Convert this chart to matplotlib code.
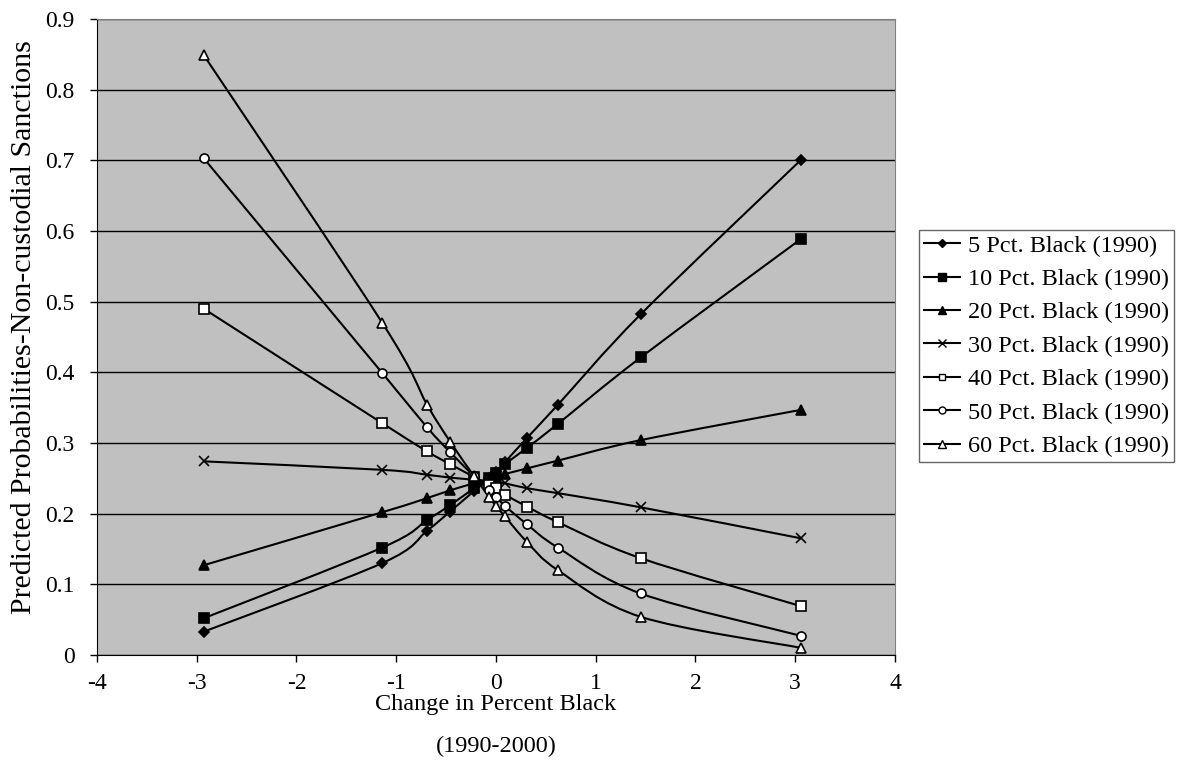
import numpy as np
import matplotlib.pyplot as plt
from matplotlib.path import Path
from matplotlib.patches import PathPatch

plt.rcParams['font.family'] = ['Liberation Serif', 'DejaVu Serif']

# change in percent black (1990-2000)
x = [-2.93, -1.14, -0.69, -0.46, -0.22, -0.07, 0.0, 0.09, 0.31, 0.62, 1.45, 3.06]

pb5 = [0.033, 0.130, 0.176, 0.203, 0.232, 0.250, 0.259, 0.273, 0.307, 0.354, 0.482, 0.701]
pb10 = [0.052, 0.152, 0.191, 0.212, 0.236, 0.251, 0.258, 0.270, 0.293, 0.327, 0.421, 0.589]
pb20 = [0.127, 0.202, 0.222, 0.233, 0.243, 0.249, 0.252, 0.256, 0.264, 0.275, 0.304, 0.347]
pb30 = [0.274, 0.262, 0.255, 0.251, 0.248, 0.246, 0.245, 0.243, 0.236, 0.229, 0.209, 0.165]
pb40 = [0.490, 0.328, 0.288, 0.270, 0.252, 0.241, 0.236, 0.227, 0.210, 0.188, 0.137, 0.069]
pb50 = [0.703, 0.399, 0.322, 0.287, 0.253, 0.233, 0.224, 0.211, 0.185, 0.152, 0.087, 0.027]
pb60 = [0.849, 0.470, 0.354, 0.302, 0.253, 0.224, 0.211, 0.196, 0.160, 0.120, 0.054, 0.010]

labels = ['5 Pct. Black (1990)', '10 Pct. Black (1990)', '20 Pct. Black (1990)',
          '30 Pct. Black (1990)', '40 Pct. Black (1990)', '50 Pct. Black (1990)',
          '60 Pct. Black (1990)']
series = [pb5, pb10, pb20, pb30, pb40, pb50, pb60]
# marker, size, face colour
styles = [('D', 5.5, 'black'), ('s', 7, 'black'), ('^', 7.5, 'black'), ('x', 7, 'black'),
          ('s', 6.5, 'white'), ('o', 6.5, 'white'), ('^', 7.5, 'white')]


def smooth_path(xs, ys):
    # excel-like smoothed line: cardinal spline as cubic bezier segments
    pts = np.column_stack([xs, ys])
    verts = [pts[0]]
    codes = [Path.MOVETO]
    n = len(pts)
    for i in range(n - 1):
        p0 = pts[i - 1] if i > 0 else pts[i]
        p1 = pts[i]
        p2 = pts[i + 1]
        p3 = pts[i + 2] if i + 2 < n else pts[i + 1]
        c1 = p1 + (p2 - p0) / 6.0
        c2 = p2 - (p3 - p1) / 6.0
        verts += [c1, c2, p2]
        codes += [Path.CURVE4] * 3
    return Path(verts, codes)


fig = plt.figure(figsize=(11.87, 7.8), dpi=100)
ax = fig.add_axes([0.0817, 0.1603, 0.6723, 0.8153])
ax.set_facecolor('#C0C0C0')

for ys, lab, (m, ms, fc) in zip(series, labels, styles):
    ax.add_patch(PathPatch(smooth_path(x, ys), facecolor='none', edgecolor='black',
                           lw=1.5, zorder=3))
    ax.plot(x, ys, linestyle='none', marker=m, markersize=ms, markerfacecolor=fc,
            markeredgecolor='black', markeredgewidth=1.2, zorder=4)
    # legend handle
    ax.plot([], [], color='black', lw=1.5, marker=m, markersize=ms - 1.5,
            markerfacecolor=fc, markeredgecolor='black', label=lab)

ax.set_xlim(-4, 4)
ax.set_ylim(0, 0.9)
ax.set_xticks(np.arange(-4, 5, 1))
ax.set_xticklabels([str(v) for v in range(-4, 5)])
ax.set_yticks(np.arange(0, 0.91, 0.1))
ax.set_yticklabels(['0'] + ['%.1f' % v for v in np.arange(0.1, 0.91, 0.1)])
ax.yaxis.grid(True, color='black', lw=1)
ax.set_axisbelow(True)
ax.tick_params(direction='out', length=5, width=1, labelsize=17, colors='black')
ax.tick_params(axis='y', pad=11)
ax.tick_params(axis='x', pad=8)

for s in ['top', 'right']:
    ax.spines[s].set_color('#808080')
for s in ['left', 'bottom']:
    ax.spines[s].set_color('black')

ax.set_ylabel('Predicted Probabilities-Non-custodial Sanctions', fontsize=21.5, va='center')
ax.yaxis.set_label_coords(-0.092, 0.515)
ax.set_xlabel('Change in Percent Black\n(1990-2000)', fontsize=17.5, labelpad=0,
              linespacing=2.3)

leg = ax.legend(loc='center left', bbox_to_anchor=(1.03, 0.486), fontsize=17.5,
                frameon=True, fancybox=False, edgecolor='#404040', handlelength=1.5,
                handletextpad=0.3, borderpad=0.2, labelspacing=0.47,
                borderaxespad=0)
leg.get_frame().set_linewidth(1)

fig.savefig('out.png', dpi=100)
